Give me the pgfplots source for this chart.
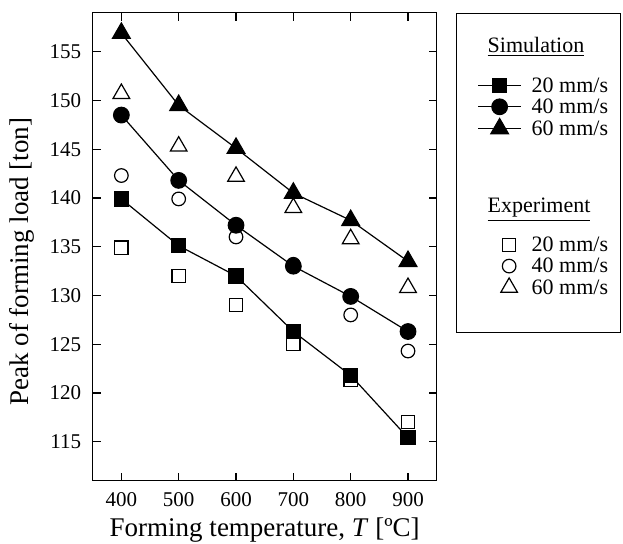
\documentclass[border=0pt]{standalone}
\usepackage{fontspec}
\setmainfont{Liberation Serif}
\usepackage{pgfplots}
\pgfplotsset{compat=1.18}
\begin{document}
\begin{tikzpicture}
\useasboundingbox (-46.35pt,-31.65pt) rectangle (265.15pt,240.35pt);
\pgfplotsset{
  simimg/.style={legend image code/.code={
    \path (-4.5pt,0pt) (21.5pt,3.4pt);
    \draw[mark repeat=2,mark phase=2] plot coordinates {(0pt,3.4pt)(10.75pt,3.4pt)(21.5pt,3.4pt)};}},
  expimg/.style={legend image code/.code={
    \path (-4.5pt,0pt) (21.5pt,3.4pt);
    \draw plot coordinates {(15.5pt,3.4pt)};}},
}
\begin{axis}[
  scale only axis,
  width=172pt, height=234pt,
  xmin=350, xmax=950, ymin=111, ymax=159,
  xtick={400,500,...,900},
  ytick={115,120,...,155},
  tick align=inside,
  xtick pos=both, ytick pos=both,
  major tick length=4pt,
  axis line style={line width=0.6pt},
  every tick/.style={line width=0.6pt, black},
  /pgf/number format/assume math mode=true,
  /pgf/number format/1000 sep={},
  tick label style={font=\fontsize{10.5}{12}\selectfont},
  xticklabel style={yshift=-2.5pt},
  yticklabel style={xshift=-2.3pt},
  xlabel={Forming temperature, \textit{T} [ºC]},
  ylabel={Peak of forming load [ton]},
  label style={font=\fontsize{13.5}{15}\selectfont},
  x label style={at={(axis description cs:0.5,-0.105)}, anchor=center},
  y label style={at={(axis description cs:-0.205,0.468)}, anchor=center},
  clip=false,
  legend style={at={(axis description cs:1.056,1)}, anchor=north west,
    draw=black, line width=0.6pt, inner xsep=6pt, inner ysep=4pt,
    row sep=0pt, column sep=5pt, font=\fontsize{11}{13}\selectfont,
    cells={anchor=base west},
    nodes={inner xsep=0pt, inner ysep=0.45pt, text height=7.8pt, text depth=2pt}},
]
% Experiment (open markers)
\addplot[only marks, mark=square, mark size=3.3pt, mark options={fill=white, line width=0.6pt}, forget plot]
  coordinates {(400,134.9)(500,132.0)(600,129.0)(700,125.0)(800,121.3)(900,117.0)};
\addplot[only marks, mark=o, mark size=3.4pt, mark options={fill=white, line width=0.6pt}, forget plot]
  coordinates {(400,142.3)(500,139.9)(600,136.0)(700,133.2)(800,128.0)(900,124.3)};
\addplot[only marks, mark=triangle, mark size=4.8pt, mark options={fill=white, line width=0.6pt}, forget plot]
  coordinates {(400,150.7)(500,145.3)(600,142.2)(700,139.0)(800,135.8)(900,130.8)};
% Simulation (filled markers with lines)
\addplot[black, line width=0.6pt, mark=square*, mark size=3.5pt, forget plot]
  coordinates {(400,139.9)(500,135.1)(600,132.0)(700,126.3)(800,121.8)(900,115.4)};
\addplot[black, line width=0.6pt, mark=*, mark size=3.9pt, forget plot]
  coordinates {(400,148.5)(500,141.8)(600,137.2)(700,133.0)(800,129.9)(900,126.3)};
\addplot[black, line width=0.6pt, mark=triangle*, mark size=5.1pt, forget plot]
  coordinates {(400,156.9)(500,149.5)(600,145.1)(700,140.5)(800,137.7)(900,133.5)};
% Legend
\addlegendimage{empty legend}
\addlegendentry[text height=15pt, text depth=11.3pt]{\hspace*{-22pt}\underline{Simulation}}
\addlegendimage{simimg, black, line width=0.6pt, mark=square*, mark size=3.5pt}
\addlegendentry{20 mm/s}
\addlegendimage{simimg, black, line width=0.6pt, mark=*, mark size=3.9pt}
\addlegendentry{40 mm/s}
\addlegendimage{simimg, black, line width=0.6pt, mark=triangle*, mark size=5.1pt}
\addlegendentry{60 mm/s}
\addlegendimage{empty legend}
\addlegendentry[text height=35.6pt, text depth=10.8pt]{\hspace*{-22pt}\underline{Experiment}}
\addlegendimage{expimg, only marks, mark=square, mark size=3.3pt, mark options={fill=white, line width=0.6pt}}
\addlegendentry{20 mm/s}
\addlegendimage{expimg, only marks, mark=o, mark size=3.4pt, mark options={fill=white, line width=0.6pt}}
\addlegendentry{40 mm/s}
\addlegendimage{expimg, only marks, mark=triangle, mark size=4.8pt, mark options={fill=white, line width=0.6pt}}
\addlegendentry[text depth=14.65pt]{60 mm/s}
\end{axis}
\end{tikzpicture}
\end{document}
